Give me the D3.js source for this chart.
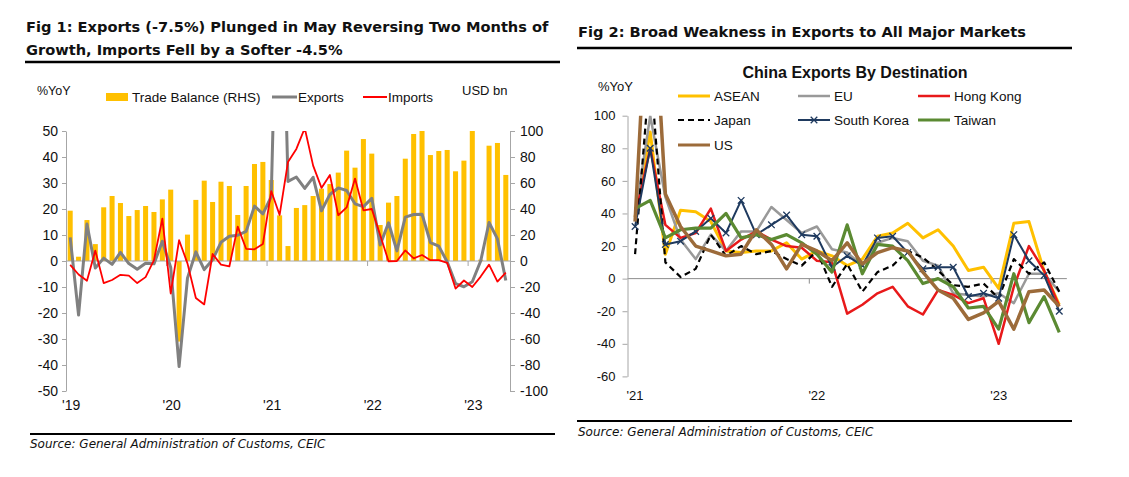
<!DOCTYPE html>
<html><head><meta charset="utf-8">
<script src="https://cdn.jsdelivr.net/npm/d3@7"></script>
<style>
body{margin:0;background:#fff;}
svg{display:block;}
text{font-family:"Liberation Sans",Arial,sans-serif;fill:#111;}
.ttl{font-family:"DejaVu Sans",sans-serif;font-weight:bold;font-size:14.6px;}
.src{font-family:"DejaVu Sans",sans-serif;font-style:italic;font-size:12px;}
</style>
</head><body>
<svg id="c" width="1129" height="477"></svg>
<script>
// ---------- Fig 1 data (Jan 2019 .. May 2023) ----------
const fig1Months = d3.range(53).map(i => `${2019 + Math.floor(i/12)}-${String(i%12+1).padStart(2,"0")}`);
const tradeBalance = [38.7,3.3,31.5,13,41.3,50,44.6,34.6,39.2,42.3,37.7,47.4,
  54.9,-62,20.3,47,61.8,45.4,61,57.7,35.4,57.7,74.6,76.2,
  62.3,35.1,11.5,40.8,43,50,55.6,59.2,68,84.9,71.8,93.8,
  82.6,27.7,44.9,50,78.7,97.7,101,81.5,84.6,85.4,69,77.2,
  101,1,88.7,90.8,66.2];
const exportsYoY = [9.1,-20.8,14.2,-2.7,1.1,-1.3,3.3,-1.0,-3.2,-0.9,-1.1,7.6,
  -2.5,-40.6,-6.6,3.5,-3.3,0.5,7.2,9.5,9.9,11.4,21.1,18.1,
  24.7,154.9,30.6,32.3,27.9,32.2,19.3,25.6,28.1,27.1,22.0,20.9,
  24.1,6.2,14.7,3.9,16.9,17.9,18.0,7.1,5.7,-0.3,-8.7,-9.9,
  -8,0,14.8,8.5,-7.5];
const importsYoY = [-1.5,-5.2,-7.6,4.0,-8.5,-7.3,-5.3,-5.6,-8.5,-6.2,0.3,16.3,
  -12.5,8,-0.9,-14.2,-16.7,2.7,-1.4,-2.1,13.2,4.7,4.5,6.5,
  26.9,17.7,38.1,43.1,51.1,36.7,28.1,33.1,17.6,20.6,31.7,19.5,
  20,10,-0.1,0.0,4.1,1.0,2.3,0.3,0.3,-0.7,-10.6,-7.5,
  -10,-6,-1.4,-7.9,-4.5];
const fig1YearLabels = ["'19","'20","'21","'22","'23"];
const fig1LeftTicks = d3.range(-50, 51, 10);
const fig1RightTicks = d3.range(-100, 101, 20);

// ---------- Fig 2 data (Jan 2021 .. May 2023) ----------
const fig2Months = d3.range(29).map(i => `${2021 + Math.floor(i/12)}-${String(i%12+1).padStart(2,"0")}`);
const asean      = [38,90,15,42,41,35,17,16,17,17,22,12,17,14,8,12,26,28,34,25,30,20,5,7,-6,34,35,4.5,-16];
const eu         = [38,100,50,24,12,27,17,29,29,44,36,28,32,18,16,8,22,25,23,11,8,-9,-10,-11,-9,-15,3,3,-8];
const hongKong   = [38,80,33,25,28,43,17,24,29,24,20,19,11,10,-21.5,-16,-9,-5,-17,-22,-7,-10,-15,-12,-40,-5,20,5,-17];
const japan      = [15,130,10,1,6,27,14,20,15,17,12,8,17,-5,9,-8,4,8,17,13,5,-4,-5,-3,-12,12,3,10,-8];
const southKorea = [32,80,21,23,29,37,28,48,27,33,39,27,26,7,14,8,25,26,16,6,7,7,-11,-9,-12,27,11,2,-20];
const taiwan     = [43,48,25,30,31,31,40,25,27,24,27,22,15,4,33,3,21,20,11,-3,0,-5,-18,-17,-31,3,-27,-11,-33];
const us         = [35,210,52,32,20,17,14,15,30,21,6,21,17,11,22,9,16,19,17,4,-7,-12,-25,-21,-14,-31,-8,-7,-17];
const fig2Names = ["ASEAN","EU","Hong Kong","Japan","South Korea","Taiwan","US"];
const fig2YearLabels = ["'21","'22","'23"];
const fig2Ticks = d3.range(-60, 101, 20);

const fmt = d => String(d);
const svg = d3.select("#c");
const defs = svg.append("defs");

// ================= FIG 1 =================
svg.append("text").attr("class","ttl").attr("x",26).attr("y",32).text("Fig 1: Exports (-7.5%) Plunged in May Reversing Two Months of");
svg.append("text").attr("class","ttl").attr("x",26).attr("y",55).text("Growth, Imports Fell by a Softer -4.5%");
svg.append("line").attr("x1",25).attr("x2",560).attr("y1",62).attr("y2",62).attr("stroke","#000").attr("stroke-width",2.5);

const L = {x0:66, x1:510, top:131, bot:391};
const xL = d3.scaleBand().domain(fig1Months).range([L.x0, L.x1]);
const yL = d3.scaleLinear().domain([-50,50]).range([L.bot, L.top]);
const yLR = d3.scaleLinear().domain([-100,100]).range([L.bot, L.top]);
const bwL = xL.bandwidth();
defs.append("clipPath").attr("id","clipL").append("rect")
  .attr("x",L.x0).attr("y",L.top).attr("width",L.x1-L.x0).attr("height",L.bot-L.top);

const gL = svg.append("g");
gL.append("g").attr("clip-path","url(#clipL)").selectAll("rect").data(tradeBalance).join("rect")
  .attr("x",(d,i)=>xL(fig1Months[i]) + bwL*0.2)
  .attr("width",bwL*0.6)
  .attr("y",d=>yLR(Math.max(0,d)))
  .attr("height",d=>Math.abs(yLR(d)-yLR(0)))
  .attr("fill","#FFC000");

gL.append("line").attr("x1",L.x0).attr("x2",L.x1).attr("y1",yL(0)).attr("y2",yL(0)).attr("stroke","#a6a6a6").attr("stroke-width",1);
fig1YearLabels.forEach((lab,k)=>{
  const xt = xL(fig1Months[k*12]);
  if(k>0) gL.append("line").attr("x1",xt).attr("x2",xt).attr("y1",yL(0)).attr("y2",yL(0)+5).attr("stroke","#a6a6a6");
  gL.append("text").attr("x",xt+bwL/2+1).attr("y",410).attr("text-anchor","middle").attr("font-size",14).text(lab);
});

const lineL = v => d3.line().x((d,i)=>xL(fig1Months[i])+bwL/2).y(d=>v(d));
const clipG = gL.append("g").attr("clip-path","url(#clipL)");
clipG.append("path").datum(exportsYoY).attr("d",lineL(yL)).attr("fill","none").attr("stroke","#808080").attr("stroke-width",3).attr("stroke-linejoin","round");
clipG.append("path").datum(importsYoY).attr("d",lineL(yL)).attr("fill","none").attr("stroke","#FF0000").attr("stroke-width",1.8).attr("stroke-linejoin","round");

const axL = gL.append("g").attr("transform",`translate(${L.x0},0)`)
  .call(d3.axisLeft(yL).tickValues(fig1LeftTicks).tickFormat(fmt).tickSize(4).tickSizeOuter(0).tickPadding(4));
const axR = gL.append("g").attr("transform",`translate(${L.x1},0)`)
  .call(d3.axisRight(yLR).tickValues(fig1RightTicks).tickFormat(fmt).tickSize(5).tickSizeOuter(0).tickPadding(5));
[axL,axR].forEach(a=>{
  a.select(".domain").attr("stroke","#a6a6a6");
  a.selectAll(".tick line").attr("stroke","#a6a6a6");
  a.selectAll("text").attr("font-size",14).attr("font-family","Liberation Sans, Arial, sans-serif").attr("fill","#111");
});

svg.append("text").attr("x",37).attr("y",95).attr("font-size",12.5).text("%YoY");
svg.append("text").attr("x",462).attr("y",95).attr("font-size",13).text("USD bn");
svg.append("rect").attr("x",106).attr("y",93).attr("width",22).attr("height",8).attr("fill","#FFC000");
svg.append("text").attr("x",132).attr("y",102).attr("font-size",13.5).text("Trade Balance (RHS)");
svg.append("line").attr("x1",272).attr("x2",297).attr("y1",97).attr("y2",97).attr("stroke","#808080").attr("stroke-width",3);
svg.append("text").attr("x",298).attr("y",102).attr("font-size",13.5).text("Exports");
svg.append("line").attr("x1",363).attr("x2",387).attr("y1",97).attr("y2",97).attr("stroke","#FF0000").attr("stroke-width",2);
svg.append("text").attr("x",388).attr("y",102).attr("font-size",13.5).text("Imports");

svg.append("line").attr("x1",30).attr("x2",555).attr("y1",434).attr("y2",434).attr("stroke","#000").attr("stroke-width",2);
svg.append("text").attr("class","src").attr("x",30).attr("y",448).text("Source: General Administration of Customs, CEIC");

// ================= FIG 2 =================
svg.append("text").attr("class","ttl").attr("x",578).attr("y",37).text("Fig 2: Broad Weakness in Exports to All Major Markets");
svg.append("line").attr("x1",577).attr("x2",1072).attr("y1",48).attr("y2",48).attr("stroke","#000").attr("stroke-width",2.5);
svg.append("text").attr("x",855).attr("y",78).attr("text-anchor","middle").attr("font-size",16).attr("font-weight","bold").attr("fill","#222").text("China Exports By Destination");
svg.append("text").attr("x",598).attr("y",91).attr("font-size",13).text("%YoY");

const R = {x0:627.5, top:115.7, bot:376.4};
R.x1 = R.x0 + 29*15.15;
const xR = d3.scaleBand().domain(fig2Months).range([R.x0, R.x1]);
const yRr = d3.scaleLinear().domain([-60,100]).range([R.bot, R.top]);
const bwR = xR.bandwidth();
defs.append("clipPath").attr("id","clipR").append("rect")
  .attr("x",R.x0).attr("y",R.top).attr("width",R.x1-R.x0+5).attr("height",R.bot-R.top);

const gR = svg.append("g");
gR.append("line").attr("x1",R.x0).attr("x2",R.x1).attr("y1",yRr(0)).attr("y2",yRr(0)).attr("stroke","#8c8c8c");
fig2YearLabels.forEach((lab,k)=>{
  const xt = xR(fig2Months[k*12]);
  if(k>0) gR.append("line").attr("x1",xt).attr("x2",xt).attr("y1",yRr(0)).attr("y2",yRr(0)+5).attr("stroke","#8c8c8c");
  gR.append("text").attr("x",xt+bwR/2).attr("y",400).attr("text-anchor","middle").attr("font-size",13).text(lab);
});
const axR2 = gR.append("g").attr("transform",`translate(${R.x0},0)`)
  .call(d3.axisLeft(yRr).tickValues(fig2Ticks).tickFormat(fmt).tickSize(5).tickSizeOuter(0).tickPadding(7));
axR2.select(".domain").attr("stroke","#a6a6a6");
axR2.selectAll(".tick line").attr("stroke","#a6a6a6");
axR2.selectAll("text").attr("font-size",13).attr("font-family","Liberation Sans, Arial, sans-serif").attr("fill","#111");

const styles = [
  {data:asean, color:"#FFC000", w:3},
  {data:eu, color:"#999999", w:2.5},
  {data:hongKong, color:"#E8191A", w:2.5},
  {data:japan, color:"#000000", w:2.2, dash:"6,4"},
  {data:southKorea, color:"#1F3A5F", w:2, marker:true},
  {data:taiwan, color:"#5B8A32", w:3.2},
  {data:us, color:"#9C6B3A", w:3.5}
];
const lineR = d3.line().x((d,i)=>xR(fig2Months[i])+bwR/2).y(d=>yRr(d));
const cR = gR.append("g").attr("clip-path","url(#clipR)");
styles.forEach(s=>{
  cR.append("path").datum(s.data).attr("d",lineR).attr("fill","none")
    .attr("stroke",s.color).attr("stroke-width",s.w).attr("stroke-linejoin","round")
    .attr("stroke-dasharray",s.dash||null);
  if(s.marker){
    cR.append("g").selectAll("path").data(s.data).join("path")
      .attr("d",d3.symbol(d3.symbolX,30))
      .attr("transform",(d,i)=>`translate(${xR(fig2Months[i])+bwR/2},${yRr(d)})`)
      .attr("fill","none").attr("stroke",s.color).attr("stroke-width",1.3);
  }
});

const legPos = [[678,96],[798,96],[918,96],[678,120],[798,120],[918,120],[678,145]];
styles.forEach((s,k)=>{
  const [lx,ly] = legPos[k];
  svg.append("line").attr("x1",lx).attr("x2",lx+32).attr("y1",ly).attr("y2",ly)
    .attr("stroke",s.color).attr("stroke-width",Math.min(s.w,3)).attr("stroke-dasharray",s.dash||null);
  if(s.marker) svg.append("path").attr("d",d3.symbol(d3.symbolX,30)).attr("transform",`translate(${lx+16},${ly})`)
    .attr("fill","none").attr("stroke",s.color).attr("stroke-width",1.3);
  svg.append("text").attr("x",lx+36).attr("y",ly+5).attr("font-size",13.5).text(fig2Names[k]);
});

svg.append("line").attr("x1",577).attr("x2",1072).attr("y1",421).attr("y2",421).attr("stroke","#000").attr("stroke-width",2);
svg.append("text").attr("class","src").attr("x",578).attr("y",436).text("Source: General Administration of Customs, CEIC");
</script>
</body></html>
